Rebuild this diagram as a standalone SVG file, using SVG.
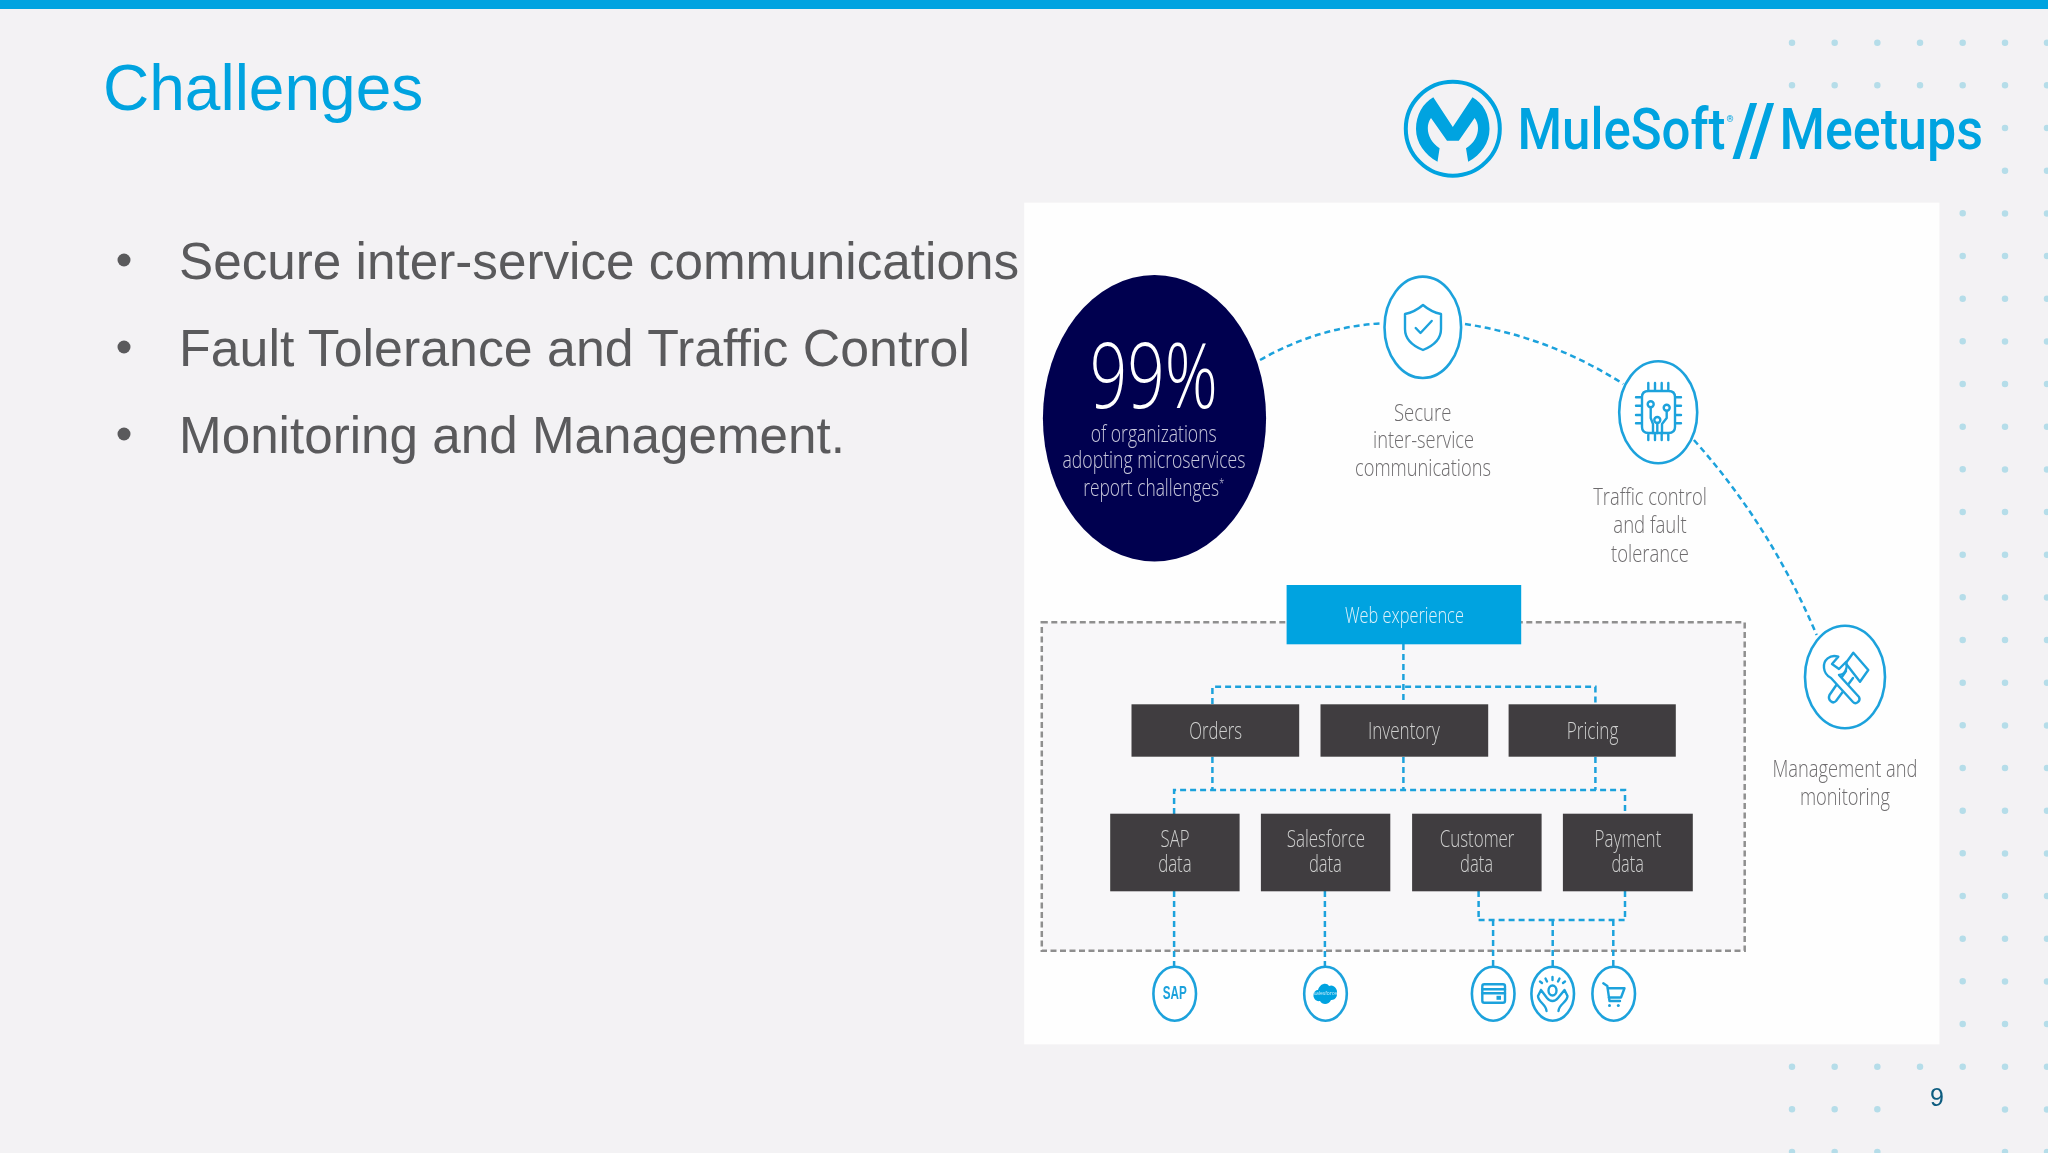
<svg xmlns="http://www.w3.org/2000/svg" width="2048" height="1153" viewBox="0 0 2048 1153">
<style>
text{font-family:"Open Sans","Liberation Sans",sans-serif}
.s{font-family:"Liberation Sans",Arial,sans-serif}
.b{font-size:52px;fill:#5a5a5c}
.m{text-anchor:middle;font-weight:300}
.c{font-size:23px;fill:#c9c9dc}
.g{font-size:24px;fill:#6e6c6e}
.d{font-size:23.5px;fill:#cfcfcf}
.logo{font-family:Roboto,"Liberation Sans",sans-serif;font-size:58px;fill:#00a3e0}
.ring{fill:#fff;stroke:#1ea2dc;stroke-width:2.6}
.ico{fill:none;stroke:#1ea2dc;stroke-width:2.4;stroke-linecap:round;stroke-linejoin:round}
.box{fill:#3f3d3f}
.link{fill:none;stroke:#1ea2dc;stroke-width:2.5;stroke-dasharray:6 4}
.dots{fill:none;stroke:#b5dde9;stroke-width:6.5;stroke-linecap:round}
</style>
<defs><filter id="soft" filterUnits="userSpaceOnUse" x="0" y="0" width="2048" height="1153"><feGaussianBlur stdDeviation="0.55"/></filter></defs>
<rect width="2048" height="1153" fill="#f3f2f4"/>
<rect width="2048" height="9" fill="#00a3e0"/>
<g filter="url(#soft)">
<g id="dots"><path class="dots" d="M1792 42.7h0m42.67 0h0m42.67 0h0m42.67 0h0m42.67 0h0M1792 85.3h0m42.67 0h0m42.67 0h0m42.67 0h0m42.67 0h0M1792 1066.7h0m42.67 0h0m42.67 0h0m42.67 0h0M1792 1109.3h0m42.67 0h0m42.67 0h0M1792 1152h0m42.67 0h0m42.67 0h0
M1962.7 213.3h0m0 42.67h0m0 42.67h0m0 42.67h0m0 42.67h0m0 42.67h0m0 42.67h0m0 42.67h0m0 42.67h0m0 42.67h0m0 42.67h0m0 42.67h0m0 42.67h0m0 42.67h0m0 42.67h0m0 42.67h0m0 42.67h0m0 42.67h0m0 42.67h0m0 42.67h0m0 42.67h0
M2005 42.7h0m0 42.67h0m0 42.67h0m0 42.67h0m0 42.67h0m0 42.67h0m0 42.67h0m0 42.67h0m0 42.67h0m0 42.67h0m0 42.67h0m0 42.67h0m0 42.67h0m0 42.67h0m0 42.67h0m0 42.67h0m0 42.67h0m0 42.67h0m0 42.67h0m0 42.67h0m0 42.67h0m0 42.67h0m0 42.67h0m0 42.67h0m0 42.67h0m0 42.67h0m0 42.67h0
M2047 42.7h0m0 42.67h0m0 42.67h0m0 42.67h0m0 42.67h0m0 42.67h0m0 42.67h0m0 42.67h0m0 42.67h0m0 42.67h0m0 42.67h0m0 42.67h0m0 42.67h0m0 42.67h0m0 42.67h0m0 42.67h0m0 42.67h0m0 42.67h0m0 42.67h0m0 42.67h0m0 42.67h0m0 42.67h0m0 42.67h0m0 42.67h0m0 42.67h0m0 42.67h0m0 42.67h0"/></g>
<g id="title"><text class="s" x="103" y="110" font-size="64" fill="#00a3e0">Challenges</text></g>
<g id="bullets">
<circle cx="124" cy="260" r="6.5" fill="#5a5a5c"/><text class="s b" x="179" y="279" textLength="840" lengthAdjust="spacingAndGlyphs">Secure inter-service communications</text>
<circle cx="124" cy="347" r="6.5" fill="#5a5a5c"/><text class="s b" x="179" y="366" textLength="791" lengthAdjust="spacingAndGlyphs">Fault Tolerance and Traffic Control</text>
<circle cx="124" cy="434" r="6.5" fill="#5a5a5c"/><text class="s b" x="179" y="453" textLength="666" lengthAdjust="spacingAndGlyphs">Monitoring and Management.</text>
</g>
<g id="logo">
<ellipse cx="1452.8" cy="128.7" rx="47" ry="47" fill="none" stroke="#00a3e0" stroke-width="4"/>
<path fill="#00a3e0" d="M1433.3 97.3L1452.8 127L1472.5 97.3C1483 103 1489.5 115 1489.5 129C1489.5 143 1481 155 1468.2 161.7L1466 148.3C1474 143 1478 136 1478 128C1478 124 1476.5 120.5 1474.6 118L1458.8 140.7H1447L1431 118C1429 121 1427.8 124 1427.8 128C1427.8 136 1432 143 1439.6 148.3L1437.5 161.7C1425 155 1416 143 1416 129C1416 115 1423 103 1433.3 97.3Z"/>
<text class="logo" x="1517.5" y="149" textLength="208" lengthAdjust="spacingAndGlyphs" font-weight="500">MuleSoft</text>
<text class="logo" x="1726.5" y="122" style="font-size:9px">®</text>
<text class="logo" x="1733" y="155" style="font-size:72px" textLength="42" lengthAdjust="spacingAndGlyphs" font-weight="700">//</text>
<text class="logo" x="1779.5" y="149" textLength="203.5" lengthAdjust="spacingAndGlyphs" font-weight="500">Meetups</text>
</g>
<g id="panel"><rect x="1024.2" y="202.7" width="915.2" height="841.6" fill="#fefefe"/></g>
<g id="frame"><rect x="1041.8" y="622.3" width="702.9" height="328.4" fill="#f8f7f9" stroke="#8f8f8f" stroke-width="2.5" stroke-dasharray="6 3.5"/></g>
<g id="connectors">
<path class="link" d="M1260 360Q1318 327 1381.4 323.3"/>
<path class="link" d="M1465 324Q1550 337 1623.3 384"/>
<path class="link" d="M1693.9 440Q1770 525 1816.7 635"/>
<path class="link" d="M1403.4 644V704M1212.4 704V686.7H1595.4V704"/>
<path class="link" d="M1212.4 757V790M1403.4 757V790M1595.4 757V790M1174.1 814V790H1625V814"/>
<path class="link" d="M1174.1 891V966M1324.9 891V966"/>
<path class="link" d="M1478.6 891V920M1625 891V920M1478.6 920H1625M1493.1 920V966M1552.7 920V966M1613.3 920V966"/>
</g>
<g id="stat">
<ellipse cx="1154.5" cy="418.3" rx="111.6" ry="143.3" fill="#01014f"/>
<text class="m" x="1153.7" y="408" font-size="90" fill="#fff" textLength="128" lengthAdjust="spacingAndGlyphs">99%</text>
<text class="m c" x="1153.7" y="442" textLength="126" lengthAdjust="spacingAndGlyphs">of organizations</text>
<text class="m c" x="1154" y="468.3" textLength="183" lengthAdjust="spacingAndGlyphs">adopting microservices</text>
<text class="m c" x="1153.7" y="496" textLength="141" lengthAdjust="spacingAndGlyphs">report challenges<tspan dy="-8" font-size="12">*</tspan></text>
</g>
<g id="secure">
<ellipse class="ring" cx="1422.8" cy="327.3" rx="38.3" ry="50.7"/>
<path class="ico" d="M1423 305C1430 311 1436 313 1441 314V329C1441 339 1433 346 1423 350C1413 346 1405 339 1405 329V314C1410 313 1416 311 1423 305ZM1415.7 328L1420.5 333L1431.7 321"/>
<text class="m g" x="1422.7" y="420.7" textLength="57.5" lengthAdjust="spacingAndGlyphs">Secure</text>
<text class="m g" x="1423.5" y="448.3" textLength="101" lengthAdjust="spacingAndGlyphs">inter-service</text>
<text class="m g" x="1423" y="476" textLength="136" lengthAdjust="spacingAndGlyphs">communications</text>
</g>
<g id="traffic">
<ellipse class="ring" cx="1658.2" cy="412.2" rx="39" ry="51"/>
<path class="ico" d="M1648.5 391Q1642 391 1642 397V427Q1642 433 1648.5 433H1668.5Q1675 433 1675 427V397Q1675 391 1668.5 391ZM1648.3 383V391M1655 383V391M1661.7 383V391M1668.3 383V391M1648.3 433V440M1655 433V440M1661.7 433V440M1668.3 433V440M1636 397.3H1642M1636 405.7H1642M1636 415H1642M1636 423.3H1642M1675 397.3H1681M1675 405.7H1681M1675 415H1681M1675 423.3H1681"/>
<circle class="ico" cx="1650.7" cy="404.3" r="3"/><circle class="ico" cx="1666.7" cy="407.7" r="3"/><circle class="ico" cx="1657.3" cy="420" r="3"/>
<path class="ico" d="M1650.7 407.5V418L1653 424V433M1666.7 411V418L1662 424V433M1657.3 423V433"/>
<text class="m g" x="1650" y="505" textLength="113.6" lengthAdjust="spacingAndGlyphs">Traffic control</text>
<text class="m g" x="1650" y="532.7" textLength="73.4" lengthAdjust="spacingAndGlyphs">and fault</text>
<text class="m g" x="1650" y="561.7" textLength="77.8" lengthAdjust="spacingAndGlyphs">tolerance</text>
</g>
<g id="management">
<ellipse class="ring" cx="1845" cy="677" rx="40" ry="51.3"/>
<path class="ico" d="M1853.3 652.7L1868.3 670L1860 681.7L1845.7 663.3ZM1846 671L1829.5 695C1827.5 700 1832.5 704.5 1836 701L1853 678"/>
<path class="ico" fill="#fff" style="fill:#fff" d="M1838.3 656.7C1830 654 1823 660 1824 668C1824.5 673 1827 676 1831 678L1853 702C1856 705 1861 701 1859 697L1839 675C1845 675 1848 668 1846 662L1839 669L1832 664Z"/>
<text class="m g" x="1845" y="777" textLength="145" lengthAdjust="spacingAndGlyphs">Management and</text>
<text class="m g" x="1845" y="804.5" textLength="90" lengthAdjust="spacingAndGlyphs">monitoring</text>
</g>
<g id="web"><rect x="1286.6" y="585" width="234.6" height="59.3" fill="#00a3e0"/><text class="m" x="1404.4" y="623" font-size="21.5" fill="#dff2fb" textLength="119" lengthAdjust="spacingAndGlyphs">Web experience</text></g>
<g id="orders"><rect class="box" x="1131.5" y="704.3" width="167.7" height="52.4"/><text class="m d" x="1215.6" y="739" textLength="52.8" lengthAdjust="spacingAndGlyphs">Orders</text></g>
<g id="inventory"><rect class="box" x="1320.5" y="704.3" width="167.7" height="52.4"/><text class="m d" x="1403.9" y="739" textLength="71.8" lengthAdjust="spacingAndGlyphs">Inventory</text></g>
<g id="pricing"><rect class="box" x="1508.6" y="704.3" width="167.2" height="52.4"/><text class="m d" x="1592.6" y="739" textLength="51.5" lengthAdjust="spacingAndGlyphs">Pricing</text></g>
<g id="sap-data"><rect class="box" x="1110.2" y="813.7" width="129.4" height="77.6"/><text class="m d" x="1175" y="847" textLength="29" lengthAdjust="spacingAndGlyphs">SAP</text><text class="m d" x="1174.9" y="872" textLength="33.5" lengthAdjust="spacingAndGlyphs">data</text></g>
<g id="salesforce-data"><rect class="box" x="1260.9" y="813.7" width="129.4" height="77.6"/><text class="m d" x="1325.9" y="847" textLength="78.5" lengthAdjust="spacingAndGlyphs">Salesforce</text><text class="m d" x="1325.4" y="872" textLength="33" lengthAdjust="spacingAndGlyphs">data</text></g>
<g id="customer-data"><rect class="box" x="1412.1" y="813.7" width="129.5" height="77.6"/><text class="m d" x="1477.1" y="847" textLength="74.6" lengthAdjust="spacingAndGlyphs">Customer</text><text class="m d" x="1476.6" y="872" textLength="33" lengthAdjust="spacingAndGlyphs">data</text></g>
<g id="payment-data"><rect class="box" x="1562.9" y="813.7" width="129.9" height="77.6"/><text class="m d" x="1627.9" y="847" textLength="66.9" lengthAdjust="spacingAndGlyphs">Payment</text><text class="m d" x="1627.6" y="872" textLength="32.4" lengthAdjust="spacingAndGlyphs">data</text></g>
<g id="sap"><ellipse class="ring" cx="1174.7" cy="993.7" rx="21.3" ry="27"/><text class="s" x="1174.7" y="999" text-anchor="middle" font-weight="700" font-size="18" fill="#1ea2dc" textLength="24" lengthAdjust="spacingAndGlyphs">SAP</text></g>
<g id="salesforce"><ellipse class="ring" cx="1325.5" cy="993.7" rx="21.3" ry="27"/>
<path fill="#00a3e0" d="M1318 990C1320 983 1327 982 1329 986C1333 984 1338 988 1337 994C1337 999 1333 1000 1331 1000C1329 1005 1322 1005 1320 1001C1316 1002 1313 998 1313.5 995C1313.5 992 1316 990 1318 990Z"/>
<text x="1325.3" y="995" text-anchor="middle" font-size="5" fill="#cdeefb">salesforce</text></g>
<g id="payment"><ellipse class="ring" cx="1493.2" cy="993.7" rx="21.3" ry="27"/><rect class="ico" x="1482.3" y="984.3" width="22.7" height="18.4" rx="2"/><path class="ico" d="M1482.3 989.3H1505M1482.3 993.3H1505"/><rect x="1496.5" y="995.8" width="4.5" height="4" fill="#1ea2dc"/></g>
<g id="customer"><ellipse class="ring" cx="1552.7" cy="993.7" rx="21.3" ry="27"/><ellipse class="ico" cx="1552.5" cy="990.5" rx="4" ry="5"/><path class="ico" d="M1541 990L1538 996C1538 1002 1546 1004 1546.5 1011M1541 990L1547 998C1549 1000.5 1551 1001 1552.5 1001C1554 1001 1556 1000.5 1558 998L1564.5 990L1567.5 996C1567.5 1002 1559 1004 1558.5 1011M1552.5 977V980M1545.5 978.5L1547 981.5M1559.5 978.5L1558 981.5M1540 981.5L1542 983M1565 981.5L1563 983"/></g>
<g id="cart"><ellipse class="ring" cx="1613.7" cy="993.7" rx="21.3" ry="27"/><path class="ico" d="M1603.3 983.3L1607.3 986L1609.5 1001H1620M1607.5 988.3H1624.5L1621 997.5H1608.7"/><circle cx="1609.5" cy="1005.5" r="1.5" fill="#1ea2dc"/><circle cx="1618.3" cy="1005.5" r="1.5" fill="#1ea2dc"/></g>
<g id="page"><text class="s" x="1930" y="1106" font-size="25" fill="#0a5c7f">9</text></g>
</g>
</svg>
